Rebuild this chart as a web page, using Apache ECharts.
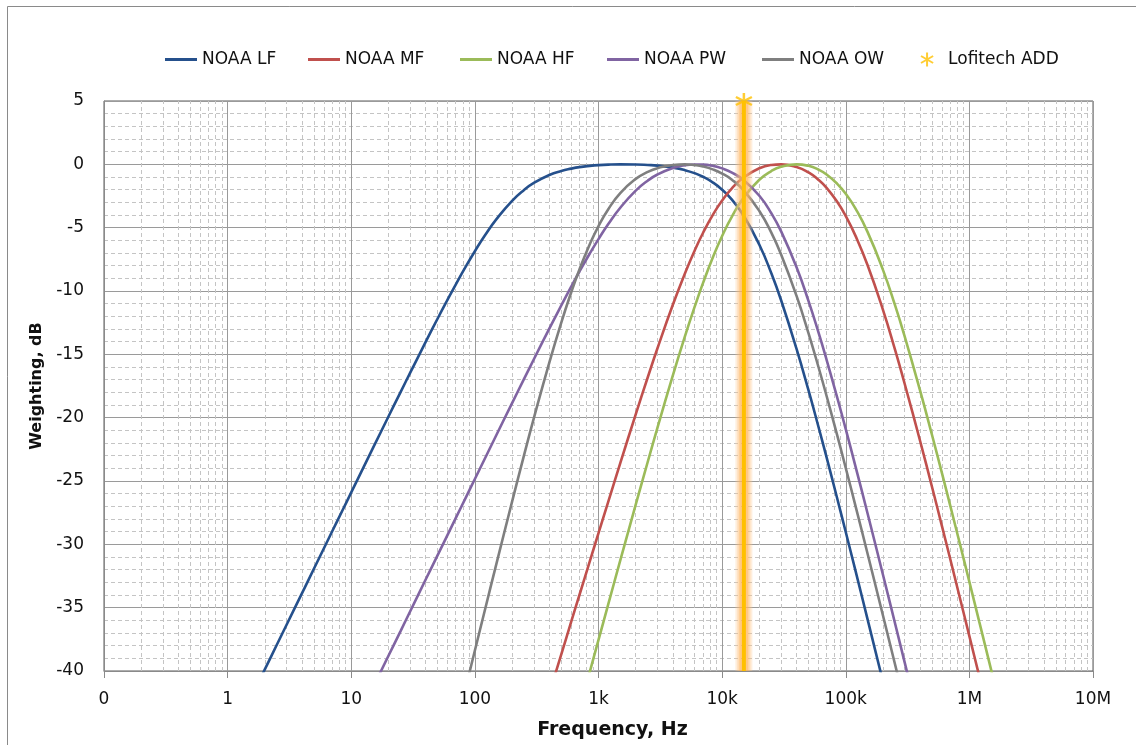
<!DOCTYPE html>
<html>
<head>
<meta charset="utf-8">
<script src="https://cdn.jsdelivr.net/npm/echarts@6/dist/echarts.min.js"></script>
<style>
html,body{margin:0;padding:0;background:#fff;}
#chart{width:1136px;height:745px;}
</style>
</head>
<body>
<div id="chart"></div>
<script>
const freqHz = [
  1,1.2,1.5,2,2.5,3,4,5,6,7,8.5,
  10,12,15,20,25,30,40,50,60,70,85,
  100,120,150,200,250,300,400,500,600,700,850,
  1000,1200,1500,2000,2500,3000,4000,5000,6000,7000,8500,
  10000,12000,15000,20000,25000,30000,40000,50000,60000,70000,85000,
  100000,120000,150000,200000,250000,300000,400000,500000,600000,700000,850000,
  1000000,1200000,1500000,2000000];

// Weighting (dB) per series, null where the curve is outside the plot
const noaaLF = [
  -45.89,-44.31,-42.37,-39.87,-37.93,-36.35,-33.85,-31.91,-30.33,-28.99,-27.31,
  -25.90,-24.32,-22.39,-19.91,-18.00,-16.45,-14.02,-12.17,-10.70,-9.49,-8.02,
  -6.86,-5.64,-4.31,-2.88,-2.02,-1.47,-0.84,-0.52,-0.34,-0.22,-0.12,
  -0.06,-0.02,0.00,-0.01,-0.05,-0.10,-0.26,-0.46,-0.70,-0.98,-1.46,
  -2.00,-2.79,-4.08,-6.35,-8.60,-10.73,-14.57,-17.85,-20.68,-23.14,-26.32,
  -29.03,-32.10,-35.90,-40.84,null,null,null,null,null,null,null,
  null,null,null,null];
const noaaMF = [
  null,null,null,null,null,null,null,null,null,null,null,
  null,null,null,null,null,null,null,null,null,null,null,
  null,null,null,null,null,null,-41.77,-38.68,-36.15,-34.02,-31.35,
  -29.11,-26.62,-23.59,-19.74,-16.83,-14.52,-11.07,-8.62,-6.80,-5.42,-3.91,
  -2.86,-1.89,-1.02,-0.31,-0.05,0.00,-0.21,-0.64,-1.21,-1.86,-2.94,
  -4.09,-5.65,-7.95,-11.49,-14.61,-17.34,-21.86,-25.51,-28.56,-31.16,-34.47,
  -37.25,-40.38,-44.23,null];
const noaaHF = [
  null,null,null,null,null,null,null,null,null,null,null,
  null,null,null,null,null,null,null,null,null,null,null,
  null,null,null,null,null,null,null,null,null,-43.09,-40.07,
  -37.55,-34.72,-31.27,-26.87,-23.50,-20.79,-16.65,-13.59,-11.24,-9.38,-7.24,
  -5.66,-4.12,-2.61,-1.22,-0.53,-0.19,0.00,-0.12,-0.41,-0.80,-1.52,
  -2.33,-3.50,-5.33,-8.33,-11.10,-13.60,-17.89,-21.41,-24.38,-26.94,-30.20,
  -32.96,-36.08,-39.91,-44.88];
const noaaPW = [
  null,null,null,null,null,null,null,null,null,null,null,
  null,null,-41.30,-38.80,-36.87,-35.28,-32.78,-30.85,-29.27,-27.93,-26.25,
  -24.84,-23.26,-21.33,-18.85,-16.94,-15.39,-12.97,-11.14,-9.68,-8.48,-7.04,
  -5.90,-4.71,-3.43,-2.08,-1.29,-0.80,-0.29,-0.07,-0.01,-0.02,-0.13,
  -0.32,-0.65,-1.26,-2.48,-3.86,-5.29,-8.13,-10.80,-13.23,-15.43,-18.36,
  -20.91,-23.86,-27.55,-32.40,-36.21,-39.34,-44.30,null,null,null,null,
  null,null,null,null];
const noaaOW = [
  null,null,null,null,null,null,null,null,null,null,null,
  null,null,null,null,null,null,null,null,null,-44.53,-41.18,
  -38.38,-35.26,-31.46,-26.63,-22.96,-20.04,-15.65,-12.49,-10.14,-8.32,-6.31,
  -4.87,-3.54,-2.27,-1.15,-0.60,-0.30,-0.05,0.00,-0.06,-0.17,-0.42,
  -0.73,-1.21,-2.07,-3.68,-5.39,-7.12,-10.39,-13.34,-15.96,-18.29,-21.34,
  -23.97,-26.98,-30.72,-35.62,-39.45,-42.59,null,null,null,null,null,
  null,null,null,null];

// Lofitech ADD device frequency (Hz) and marker level (dB)
const addFreq = [15000];
const addLevel = [5];

const seriesNames = ['NOAA LF','NOAA MF','NOAA HF','NOAA PW','NOAA OW'];
const seriesValues = [noaaLF, noaaMF, noaaHF, noaaPW, noaaOW];
const seriesColors = ['#25508C','#C0504D','#9BBB59','#8064A2','#7F7F7F'];

const yMin = -40, yMax = 5, yStep = 5;
const xMin = 0.1, xMax = 1e7;
const xTickLabels = {'0.1':'0','1':'1','10':'10','100':'100','1000':'1k','10000':'10k','100000':'100k','1000000':'1M','10000000':'10M'};

// minor (2..9 per decade) vertical grid positions
const minorX = [];
for (let d = xMin; d < xMax * 0.99; d *= 10) {
  for (let m = 2; m <= 9; m++) minorX.push(+(d * m).toPrecision(6));
}

const FONT = '"DejaVu Sans", "Open Sans", sans-serif';
const chart = echarts.init(document.getElementById('chart'), null, {renderer: 'canvas'});

const curveSeries = seriesNames.map((name, k) => ({
  name: name,
  type: 'line',
  data: freqHz.map((f, i) => [f, seriesValues[k][i]]).filter(p => p[1] !== null),
  symbol: 'none',
  smooth: 0.5,
  clip: true,
  z: 3,
  lineStyle: {color: seriesColors[k], width: 2.6},
  itemStyle: {color: seriesColors[k]}
}));

// glow layers for the Lofitech ADD frequency band (widths / colours only)
const glowLayers = [
  {width: 17, color: 'rgba(255,200,140,0.30)'},
  {width: 13, color: 'rgba(255,185,110,0.35)'},
  {width: 9,  color: 'rgba(255,175,80,0.45)'},
  {width: 4,  color: '#FFC000'}
];
const bandSeries = glowLayers.map((g, i) => ({
  name: 'band' + i, type: 'line', symbol: 'none', silent: true, z: 5,
  data: [[addFreq[0], yMax], [addFreq[0], yMin]],
  lineStyle: {color: g.color, width: g.width, cap: 'butt'}
}));

const starPath = 'path://M0,-10L0,10M-8.66,-5L8.66,5M-8.66,5L8.66,-5';

const legendLefts = [160, 303, 455, 602, 757, 915];
const legendNames = seriesNames.concat(['Lofitech ADD']);
const legends = legendNames.map((n, i) => ({
  show: true,
  left: legendLefts[i],
  top: 46,
  orient: 'horizontal',
  data: i === 5 ? [{name: n, icon: starPath}] : [{name: n, icon: 'rect'}],
  itemWidth: 32,
  itemHeight: i === 5 ? 14 : 3,
  selectedMode: false,
  textStyle: {fontSize: 17, fontFamily: FONT, color: '#111'}
}));

const option = {
  animation: false,
  backgroundColor: '#fff',
  graphic: [{
    type: 'rect',
    shape: {x: 7.5, y: 6.5, width: 1300, height: 900},
    style: {fill: 'none', stroke: '#8a8a8a', lineWidth: 1},
    silent: true, z: 0
  }],
  legend: legends,
  grid: {left: 104, right: 43, top: 101, bottom: 72, show: true, borderColor: '#5a5a5a', borderWidth: 1, backgroundColor: 'transparent'},
  xAxis: {
    type: 'log', logBase: 10, min: xMin, max: xMax, splitNumber: 10,
    name: 'Frequency, Hz', nameLocation: 'middle', nameGap: 50,
    nameTextStyle: {fontSize: 19, fontWeight: 'bold', fontFamily: FONT, color: '#111', padding: [0, 0, 0, 28]},
    axisLine: {show: true, onZero: false, lineStyle: {color: '#8a8a8a', width: 1}},
    axisTick: {show: true, length: 7, lineStyle: {color: '#8a8a8a'}},
    axisLabel: {fontSize: 17, fontFamily: FONT, color: '#111', margin: 20,
      formatter: v => { const k = String(+v.toPrecision(6)); return xTickLabels[k] !== undefined ? xTickLabels[k] : ''; }},
    splitLine: {show: true, lineStyle: {color: '#9a9a9a', width: 1}},
    minorTick: {show: false}, minorSplitLine: {show: false}
  },
  yAxis: {
    type: 'value', min: yMin, max: yMax, interval: yStep,
    name: 'Weighting, dB', nameLocation: 'middle', nameGap: 58, nameRotate: 90,
    nameTextStyle: {fontSize: 16, fontWeight: 'bold', fontFamily: FONT, color: '#111'},
    axisLine: {show: true, lineStyle: {color: '#8a8a8a', width: 1}},
    axisTick: {show: false},
    axisLabel: {fontSize: 17, fontFamily: FONT, color: '#111', margin: 20},
    splitLine: {show: true, lineStyle: {color: '#9a9a9a', width: 1}},
    minorTick: {show: false, splitNumber: 5},
    minorSplitLine: {show: true, lineStyle: {color: '#c4c4c4', width: 1, type: [4, 3]}}
  },
  series: [
    {
      name: 'minorGrid', type: 'line', data: [], symbol: 'none', silent: true, z: 1,
      markLine: {
        silent: true, symbol: ['none', 'none'], z: 1, animation: false,
        label: {show: false},
        lineStyle: {color: '#c4c4c4', width: 1, type: [4, 3]},
        emphasis: {disabled: true},
        data: minorX.map(v => ({xAxis: v}))
      }
    }
  ].concat(curveSeries).concat(bandSeries).concat([
    {
      name: 'Lofitech ADD', type: 'scatter', z: 6, clip: false,
      data: addFreq.map((f, i) => [f, addLevel[i]]),
      symbol: starPath, symbolSize: 16,
      itemStyle: {color: '#FFC000', borderColor: '#FFC000', borderWidth: 2.5}
    }
  ])
};
chart.setOption(option);
</script>
</body>
</html>
